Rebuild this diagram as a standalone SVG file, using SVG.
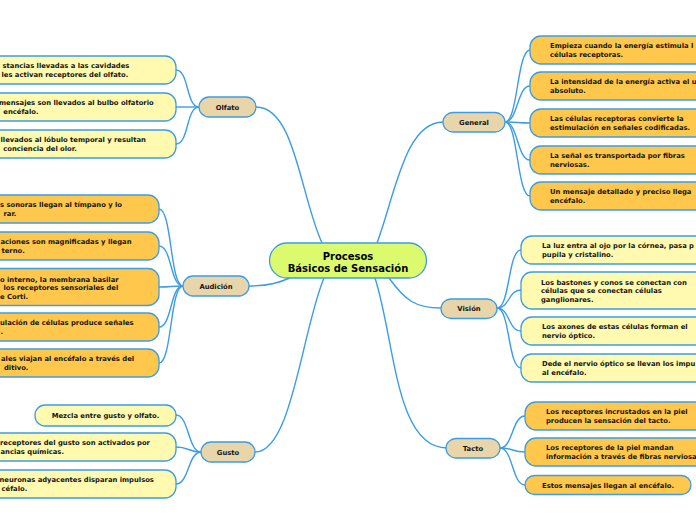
<svg xmlns="http://www.w3.org/2000/svg" width="696" height="520" viewBox="0 0 696 520">
<style>
text{font-family:"DejaVu Sans","Verdana",sans-serif;font-weight:bold;font-size:6.8px;fill:#141414}
.c{text-anchor:middle}
.box{stroke:#3d9de3;stroke-width:1.3}
.or{fill:#ffc84c}
.ly{fill:#fffab0}
.tan{fill:#e8d5a9}
.root{fill:#dcfa6e}
.big{font-size:10px;fill:#000}
#connectors path{fill:none;stroke:#3d9de3;stroke-width:1.4}
</style>
<rect width="696" height="520" fill="#fff"/>
<g id="connectors">
<path d="M256,107 C295,107 300,195 322,243"/>
<path d="M443,122 C405,122 395,195 377,243"/>
<path d="M249,286 C270,286 280,282 290,278"/>
<path d="M255,452 C292,452 302,330 324,278"/>
<path d="M389,278 C405,300 415,308 441,308"/>
<path d="M375,278 C395,340 395,448 447,448"/>
<path d="M199,107 C186,107 189,70 176,70"/>
<path d="M199,107 C186,107 189,107 176,107"/>
<path d="M199,107 C186,107 189,144 176,144"/>
<path d="M183,286 C170,286 172,209 159,209"/>
<path d="M183,286 C170,286 172,246 159,246"/>
<path d="M183,286 C170,286 172,287 159,287"/>
<path d="M183,286 C170,286 172,327 159,327"/>
<path d="M183,286 C170,286 172,363 159,363"/>
<path d="M201,452 C188,452 189,415 176,415"/>
<path d="M201,452 C188,452 189,447 176,447"/>
<path d="M201,452 C188,452 189,484 176,484"/>
<path d="M505,122 C518,122 517,50 530,50"/>
<path d="M505,122 C518,122 517,86 530,86"/>
<path d="M505,122 C518,122 517,123 530,123"/>
<path d="M505,122 C518,122 517,160 530,160"/>
<path d="M505,122 C518,122 517,196 530,196"/>
<path d="M497,308 C510,308 508,250 521,250"/>
<path d="M497,308 C510,308 508,290 521,290"/>
<path d="M497,308 C510,308 508,331 521,331"/>
<path d="M497,308 C510,308 508,368 521,368"/>
<path d="M500,448 C513,448 512,416 525,416"/>
<path d="M500,448 C513,448 512,452 525,452"/>
<path d="M500,448 C513,448 512,485 525,485"/>
</g>
<g id="root">
<rect class="box root" x="269.5" y="243" width="157" height="35" rx="17.5"/>
<text class="big c" x="348" y="259.5">Procesos</text>
<text class="big c" x="348" y="271.5">Básicos de Sensación</text>
</g>
<g id="olfato">
<rect class="box tan" x="199" y="97" width="57" height="20" rx="10"/>
<text class="c" x="227.5" y="109.5">Olfato</text>
</g>
<g id="olfato-1">
<rect class="box ly" x="-20" y="56" width="196" height="28" rx="11"/>
<text x="2.5" y="68">stancias llevadas a las cavidades</text>
<text x="1.5" y="77">les activan receptores del olfato.</text>
</g>
<g id="olfato-2">
<rect class="box ly" x="-20" y="93" width="196" height="28" rx="11"/>
<text x="-1" y="105">mensajes son llevados al bulbo olfatorio</text>
<text x="3.3" y="114">encéfalo.</text>
</g>
<g id="olfato-3">
<rect class="box ly" x="-20" y="130" width="196" height="28" rx="11"/>
<text x="0.5" y="142">llevados al lóbulo temporal y resultan</text>
<text x="3.3" y="151">conciencia del olor.</text>
</g>
<g id="audicion">
<rect class="box tan" x="183" y="276" width="66" height="20" rx="10"/>
<text class="c" x="216" y="288.5">Audición</text>
</g>
<g id="audicion-1">
<rect class="box or" x="-20" y="195" width="179" height="28" rx="11"/>
<text x="0" y="207">s sonoras llegan al tímpano y lo</text>
<text x="3.5" y="216">rar.</text>
</g>
<g id="audicion-2">
<rect class="box or" x="-20" y="232" width="179" height="28" rx="11"/>
<text x="0.5" y="244">aciones son magnificadas y llegan</text>
<text x="1.5" y="253">terno.</text>
</g>
<g id="audicion-3">
<rect class="box or" x="-20" y="268.5" width="179" height="37" rx="11"/>
<text x="0" y="281.5">o interno, la membrana basilar</text>
<text x="3.5" y="290">los receptores sensoriales del</text>
<text x="0" y="298.5">e Corti.</text>
</g>
<g id="audicion-4">
<rect class="box or" x="-20" y="313" width="179" height="28" rx="11"/>
<text x="0" y="325">ulación de células produce señales</text>
<text x="0.5" y="334">.</text>
</g>
<g id="audicion-5">
<rect class="box or" x="-20" y="349" width="179" height="28" rx="11"/>
<text x="1" y="361">ales viajan al encéfalo a través del</text>
<text x="4" y="370">ditivo.</text>
</g>
<g id="gusto">
<rect class="box tan" x="201" y="442" width="54" height="20" rx="10"/>
<text class="c" x="228" y="454.5">Gusto</text>
</g>
<g id="gusto-1">
<rect class="box ly" x="35" y="405" width="141" height="21" rx="10"/>
<text class="c" x="105.5" y="418">Mezcla entre gusto y olfato.</text>
</g>
<g id="gusto-2">
<rect class="box ly" x="-20" y="433" width="196" height="28" rx="11"/>
<text x="0" y="445">receptores del gusto son activados por</text>
<text x="0.5" y="454">ancias químicas.</text>
</g>
<g id="gusto-3">
<rect class="box ly" x="-20" y="470" width="196" height="28" rx="11"/>
<text x="-0.5" y="482">neuronas adyacentes disparan impulsos</text>
<text x="1.5" y="491">céfalo.</text>
</g>
<g id="general">
<rect class="box tan" x="443" y="112.5" width="62" height="19.5" rx="10"/>
<text class="c" x="474" y="124.5">General</text>
</g>
<g id="general-1">
<rect class="box or" x="530" y="36" width="190" height="28" rx="11"/>
<text x="550" y="48">Empieza cuando la energía estimula l</text>
<text x="550" y="57">células receptoras.</text>
</g>
<g id="general-2">
<rect class="box or" x="530" y="72" width="190" height="28" rx="11"/>
<text x="550" y="84">La intensidad de la energía activa el u</text>
<text x="550" y="93">absoluto.</text>
</g>
<g id="general-3">
<rect class="box or" x="530" y="109" width="190" height="28" rx="11"/>
<text x="550" y="121">Las células receptoras convierte la</text>
<text x="550" y="130">estimulación en señales codificadas.</text>
</g>
<g id="general-4">
<rect class="box or" x="530" y="146" width="190" height="28" rx="11"/>
<text x="550" y="158">La señal es transportada por fibras</text>
<text x="550" y="167">nerviosas.</text>
</g>
<g id="general-5">
<rect class="box or" x="530" y="182" width="190" height="28" rx="11"/>
<text x="550" y="194">Un mensaje detallado y preciso llega</text>
<text x="550" y="203">encéfalo.</text>
</g>
<g id="vision">
<rect class="box tan" x="441" y="299" width="56" height="19.5" rx="10"/>
<text class="c" x="469" y="311">Visión</text>
</g>
<g id="vision-1">
<rect class="box ly" x="521" y="236" width="200" height="28" rx="11"/>
<text x="542" y="248">La luz entra al ojo por la córnea, pasa p</text>
<text x="542" y="257">pupila y cristalino.</text>
</g>
<g id="vision-2">
<rect class="box ly" x="521" y="272" width="200" height="37" rx="11"/>
<text x="541" y="284.5">Los bastones y conos se conectan con</text>
<text x="541" y="293">células que se conectan células</text>
<text x="541" y="301.5">ganglionares.</text>
</g>
<g id="vision-3">
<rect class="box ly" x="521" y="317" width="200" height="28" rx="11"/>
<text x="542" y="329">Los axones de estas células forman el</text>
<text x="542" y="338">nervio óptico.</text>
</g>
<g id="vision-4">
<rect class="box ly" x="521" y="354" width="200" height="28" rx="11"/>
<text x="542" y="366">Dede el nervio óptico se llevan los impu</text>
<text x="542" y="375">al encéfalo.</text>
</g>
<g id="tacto">
<rect class="box tan" x="446" y="438.5" width="54" height="19.5" rx="10"/>
<text class="c" x="473" y="450.5">Tacto</text>
</g>
<g id="tacto-1">
<rect class="box or" x="525" y="402" width="195" height="28" rx="11"/>
<text x="546" y="414">Los receptores incrustados en la piel</text>
<text x="546" y="423">producen la sensación del tacto.</text>
</g>
<g id="tacto-2">
<rect class="box or" x="525" y="438" width="195" height="28" rx="11"/>
<text x="546" y="450">Los receptores de la piel mandan</text>
<text x="546" y="459">información a través de fibras nerviosa</text>
</g>
<g id="tacto-3">
<rect class="box or" x="525" y="475.5" width="166" height="19" rx="9.5"/>
<text class="c" x="608" y="487.5">Estos mensajes llegan al encéfalo.</text>
</g>
</svg>
